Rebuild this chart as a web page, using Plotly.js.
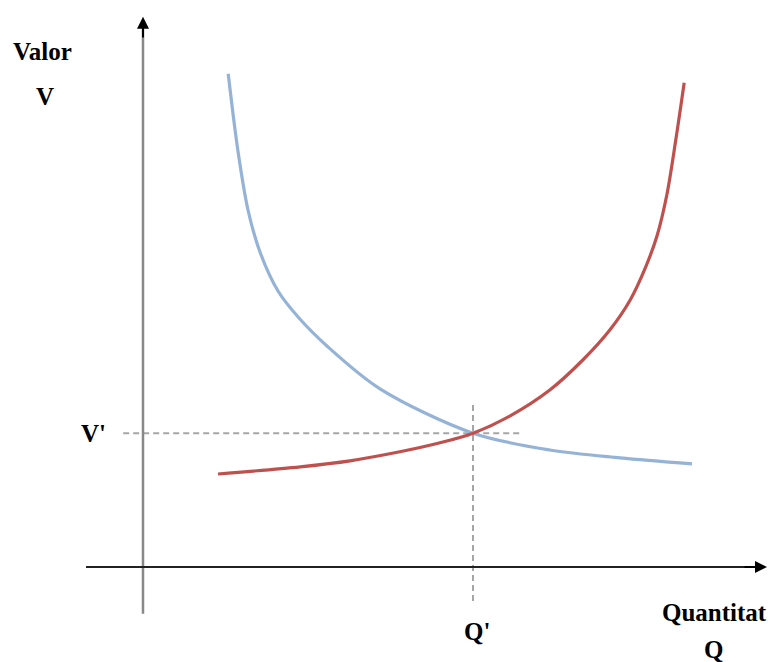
<!DOCTYPE html>
<html>
<head>
<meta charset="utf-8">
<script src="https://cdn.plot.ly/plotly-3.0.1.min.js"></script>
<style>html,body{margin:0;padding:0;background:#fff;}</style>
</head>
<body>
<div id="chart" style="width:771px;height:662px;"></div>
<script>
// Demand-like curve (blue)
var blueQ = [1.42, 1.58, 1.75, 1.95, 2.25, 2.6, 3.07, 3.95, 5.5, 6.78, 7.95, 9.15];
var blueV = [8.22, 6.95, 5.95, 5.25, 4.6, 4.15, 3.68, 2.97, 2.23, 1.95, 1.82, 1.72];
// Supply-like curve (red)
var redQ = [1.25, 2.62, 3.45, 4.28, 4.95, 5.5, 6.12, 6.78, 7.33, 7.78, 8.12, 8.37, 8.57, 8.73, 8.88, 9.02];
var redV = [1.55, 1.67, 1.77, 1.92, 2.07, 2.23, 2.52, 2.95, 3.45, 3.95, 4.45, 4.98, 5.53, 6.2, 7.12, 8.07];
// Equilibrium
var qStar = 5.5;
var vStar = 2.23;
// Labels
var yLabel1 = 'Valor', yLabel2 = 'V';
var xLabel1 = 'Quantitat', xLabel2 = 'Q';
var vTick = "V'", qTick = "Q'";

var font = {family: '"Liberation Serif", "Times New Roman", serif', size: 25, color: '#000'};

var traces = [
  {x: blueQ, y: blueV, mode: 'lines', line: {color: '#95B3D7', width: 3.2, shape: 'spline', smoothing: 0.9}, hoverinfo: 'skip'},
  {x: redQ, y: redV, mode: 'lines', line: {color: '#C0504D', width: 3.2, shape: 'spline', smoothing: 0.9}, hoverinfo: 'skip'}
];

var shapes = [
  {type: 'line', x0: -0.33, x1: 6.32, y0: vStar, y1: vStar, line: {color: '#a6a6a6', width: 2, dash: '6px,4px'}, layer: 'below'},
  {type: 'line', x0: qStar, x1: qStar, y0: 2.7, y1: -0.63, line: {color: '#a6a6a6', width: 2, dash: '6px,4px'}, layer: 'below'},
  {type: 'line', x0: 0, x1: 0, y0: -0.78, y1: 9.0, line: {color: '#888888', width: 2.5}},
  {type: 'line', x0: -0.95, x1: 10.25, y0: 0, y1: 0, line: {color: '#222222', width: 1.8}}
];

var annotations = [
  {x: 0, y: 9.17, ax: 0, ay: 8.8, xref: 'x', yref: 'y', axref: 'x', ayref: 'y', text: '', showarrow: true, arrowhead: 2, arrowsize: 1.2, arrowwidth: 2, arrowcolor: '#000'},
  {x: 10.4, y: 0, ax: 10.0, ay: 0, xref: 'x', yref: 'y', axref: 'x', ayref: 'y', text: '', showarrow: true, arrowhead: 2, arrowsize: 1.2, arrowwidth: 2, arrowcolor: '#000'},
  {x: -1.667, y: 8.6, text: '<b>' + yLabel1 + '</b>', showarrow: false, font: font},
  {x: -1.633, y: 7.85, text: '<b>' + yLabel2 + '</b>', showarrow: false, font: font},
  {x: -0.833, y: vStar, text: '<b>' + vTick + '</b>', showarrow: false, font: font},
  {x: qStar + 0.067, y: -1.083, text: '<b>' + qTick + '</b>', showarrow: false, font: font},
  {x: 9.533, y: -0.75, text: '<b>' + xLabel1 + '</b>', showarrow: false, font: font},
  {x: 9.5, y: -1.383, text: '<b>' + xLabel2 + '</b>', showarrow: false, font: font}
];

var layout = {
  width: 771, height: 662,
  margin: {l: 0, r: 0, t: 0, b: 0, pad: 0},
  paper_bgcolor: '#ffffff', plot_bgcolor: '#ffffff',
  showlegend: false,
  xaxis: {range: [-143/60, (771-143)/60], visible: false, fixedrange: true},
  yaxis: {range: [(567-662)/60, 567/60], visible: false, fixedrange: true},
  shapes: shapes,
  annotations: annotations
};

Plotly.newPlot('chart', traces, layout, {displayModeBar: false, staticPlot: true});
</script>
</body>
</html>
